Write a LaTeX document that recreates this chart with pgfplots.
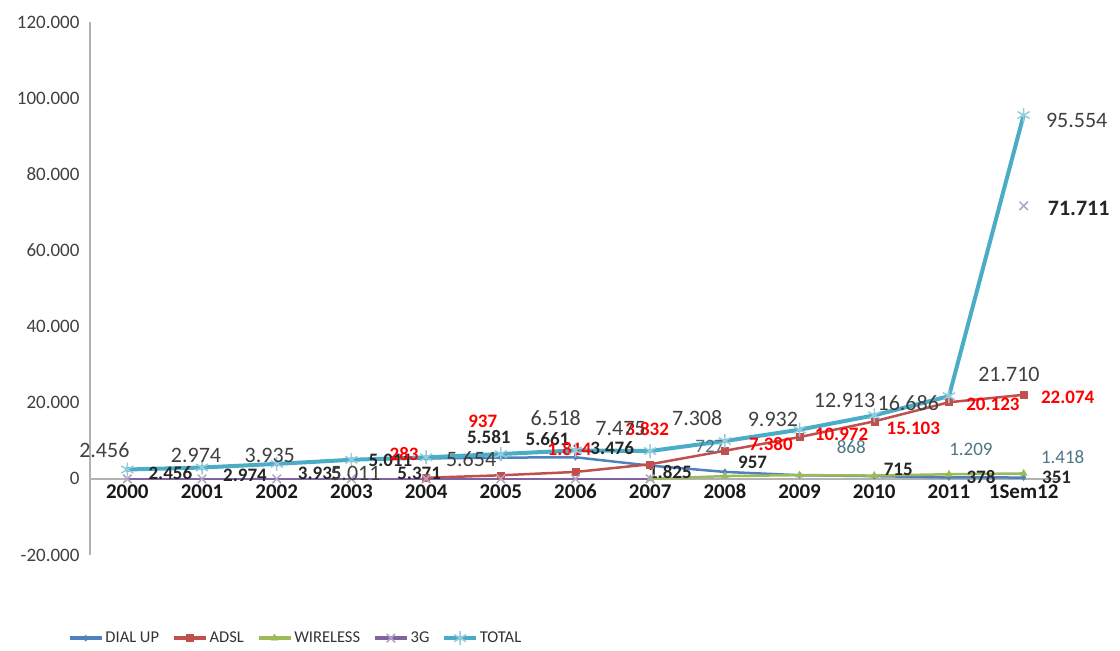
\documentclass[border=0pt]{standalone}
\usepackage{fontspec}
\setmainfont{Carlito}
\usepackage{pgfplots}
\usepackage{pgfplotstable}
\pgfplotsset{compat=1.18}
\definecolor{cdial}{HTML}{4F81BD}
\definecolor{cadsl}{HTML}{C0504D}
\definecolor{cwire}{HTML}{9BBB59}
\definecolor{cthree}{HTML}{8064A2}
\definecolor{cthreem}{HTML}{B3A2C7}
\definecolor{ctot}{HTML}{4BACC6}
\definecolor{ctotm}{HTML}{93CDDD}
\definecolor{wlab}{HTML}{4F7484}

\pgfplotstableread{
x y lab dx dy
0 2456 2.456 43 -4
1 2974 2.974 43 -8
2 3935 3.935 43 -9
3 5011 5.011 39 -1
4 5371 5.371 -7 -15
5 5581 5.581 -12 21
6 5661 5.661 -28 18
7 3476 3.476 -38 18
8 1825 1.825 -55 0
9 957 957 -47 13
10 715 715 24 7
11 378 378 32 0
12 351 351 33 0
}\tdial

\pgfplotstableread{
x y lab dx dy
4 283 283 -22 24
5 937 937 -18 54
6 1814 1.814 -6 23
7 3832 3.832 -3 35
8 7380 7.380 46 7
9 10972 10.972 42 3
10 15103 15.103 39 -7
11 20123 20.123 44 -2
12 22074 22.074 44 -3
}\tadsl

\pgfplotstableread{
x y lab dx dy
7 0 {} 0 0
8 727 727 -15 30
9 984 {} 0 0
10 868 868 -23 28
11 1209 1.209 22 25
12 1418 1.418 39 16
}\twire

\pgfplotstableread{
x y lab dx dy
0 0 {} 0 0
1 0 {} 0 0
2 0 {} 0 0
3 0 {} 0 0
4 0 {} 0 0
5 0 {} 0 0
6 0 {} 0 0
7 0 {} 0 0
8 nan {} 0 0
9 nan {} 0 0
10 nan {} 0 0
11 nan {} 0 0
12 71711 71.711 55 -3
}\tthree

\pgfplotstableread{
x y lab dx dy
0 2456 2.456 -23 19
1 2974 2.974 -6 12
2 3935 3.935 -7 8
3 5011 5.011 4 -14
4 5654 5.654 45 -2
5 6518 6.518 55 36
6 7475 7.475 45 22
7 7308 7.308 47 33
8 9932 9.932 48 22
9 12913 12.913 45 29
10 16686 16.686 34 12
11 21710 21.710 60 22
12 95554 95.554 53 -5
}\ttot

\begin{document}
\begin{tikzpicture}
\begin{axis}[
  scale only axis, width=971pt, height=533pt,
  xmin=-0.5, xmax=12.5, ymin=-20000, ymax=120000,
  axis x line=middle, axis y line=left,
  axis line style={-, draw=black!30, line width=2pt},
  xtick={0,...,12},
  xticklabels={2000,2001,2002,2003,2004,2005,2006,2007,2008,2009,2010,2011,1Sem12},
  ytick={-20000,0,20000,40000,60000,80000,100000,120000},
  major tick length=0pt,
  scaled y ticks=false,
  /pgf/number format/assume math mode=true,
  yticklabel style={/pgf/number format/fixed, /pgf/number format/1000 sep={.}, font=\fontsize{19}{19}\selectfont, text=black!75, xshift=-7pt},
  xticklabel style={font=\bfseries\fontsize{21}{21}\selectfont, text=black!90, yshift=-2pt},
  hide obscured y ticks=false,
  clip=false,
  unbounded coords=jump,
  nodes near coords align={center},
  legend columns=5,
  legend image code/.code={\draw[mark repeat=2,mark phase=2,#1] plot coordinates {(0pt,0pt) (16pt,0pt) (32pt,0pt)};},
  legend image post style={line width=3.5pt},
  legend style={at={(axis description cs:-0.026,-0.156)}, anchor=west, draw=none, fill=none,
    font=\fontsize{16.5}{16.5}\selectfont, text=black!80,
    /tikz/every even column/.append style={column sep=11pt}},
  visualization depends on={\thisrow{dx} \as \ldx},
  visualization depends on={\thisrow{dy} \as \ldy},
]
\addplot[draw=cdial, line width=2.5pt, mark=diamond*, mark size=3pt, mark options={fill=cdial, draw=cdial, line width=0.5pt, solid},
  nodes near coords, point meta=explicit symbolic,
  nodes near coords style={anchor=center, xshift=\ldx pt, yshift=\ldy pt, font=\bfseries\fontsize{19}{19}\selectfont, text=black!85, inner sep=0pt}]
  table[x=x,y=y,meta=lab] {\tdial};
\addlegendentry{DIAL UP}
\addplot[draw=cadsl, line width=2.5pt, mark=square*, mark size=3.5pt, mark options={fill=cadsl, draw=cadsl, line width=0.5pt, solid},
  nodes near coords, point meta=explicit symbolic,
  nodes near coords style={anchor=center, xshift=\ldx pt, yshift=\ldy pt, font=\bfseries\fontsize{19}{19}\selectfont, text=red, inner sep=0pt}]
  table[x=x,y=y,meta=lab] {\tadsl};
\addlegendentry{ADSL}
\addplot[draw=cwire, line width=2.5pt, mark=triangle*, mark size=4pt, mark options={fill=cwire, draw=cwire, line width=0.5pt, solid},
  nodes near coords, point meta=explicit symbolic,
  nodes near coords style={anchor=center, xshift=\ldx pt, yshift=\ldy pt, font=\fontsize{19}{19}\selectfont, text=wlab, inner sep=0pt}]
  table[x=x,y=y,meta=lab] {\twire};
\addlegendentry{WIRELESS}
\addplot[draw=cthree, line width=2.5pt, mark=x, mark size=6pt, mark options={draw=cthreem, line width=1.5pt, solid},
  nodes near coords, point meta=explicit symbolic,
  nodes near coords style={anchor=center, xshift=\ldx pt, yshift=\ldy pt, font=\bfseries\fontsize{22}{22}\selectfont, text=black!85, inner sep=0pt}]
  table[x=x,y=y,meta=lab] {\tthree};
\addlegendentry{3G}
\addplot[draw=ctot, line width=4pt, mark=asterisk, mark size=7pt, mark options={draw=ctotm, line width=1.5pt, solid},
  nodes near coords, point meta=explicit symbolic,
  nodes near coords style={anchor=center, xshift=\ldx pt, yshift=\ldy pt, font=\fontsize{22}{22}\selectfont, text=black!75, inner sep=0pt}]
  table[x=x,y=y,meta=lab] {\ttot};
\addlegendentry{TOTAL}
\end{axis}
\pgfresetboundingbox
\path (-90pt,-96pt) rectangle (1030pt,555pt);
\end{tikzpicture}
\end{document}
